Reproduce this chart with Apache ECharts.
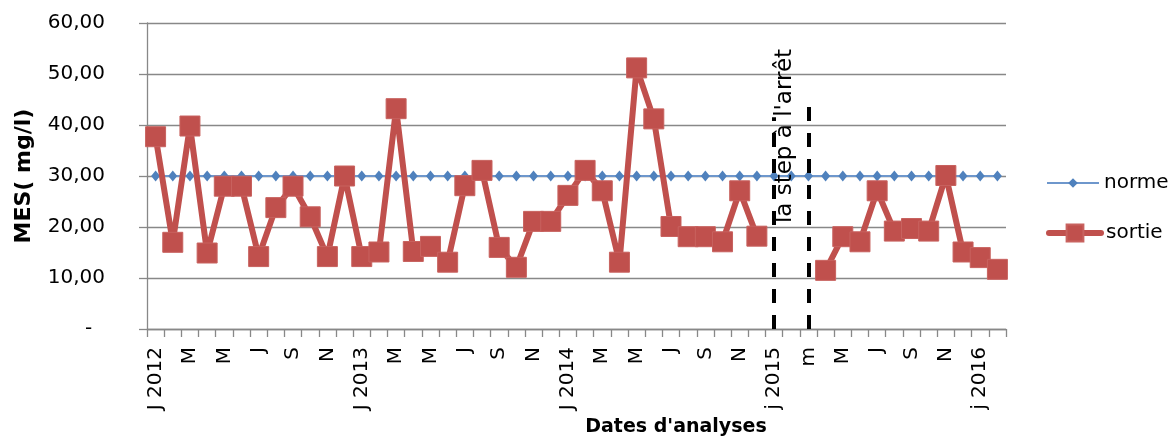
<!DOCTYPE html>
<html>
<head>
<meta charset="utf-8">
<script src="https://cdn.jsdelivr.net/npm/echarts@6/dist/echarts.min.js"></script>
<style>html,body{margin:0;padding:0;background:#fff;}#c{width:1171px;height:439px;}</style>
</head>
<body>
<div id="c"></div>
<script>
// Monthly categories, Jan 2012 .. Feb 2016 (tick labels shown every other month)
const categories = [
  'J 2012','F','M','A','M','J','J','A','S','O','N','D',
  'J 2013','F','M','A','M','J','J','A','S','O','N','D',
  'J 2014','F','M','A','M','J','J','A','S','O','N','D',
  'j 2015','f','m','a','M','J','J','A','S','O','N','D',
  'j 2016','f'
];
const norme = [
  30,30,30,30,30,30,30,30,30,30,30,30,
  30,30,30,30,30,30,30,30,30,30,30,30,
  30,30,30,30,30,30,30,30,30,30,30,30,
  30,30,30,30,30,30,30,30,30,30,30,30,
  30,30
];
const sortie = [
  37.7,17.0,39.8,14.9,28.0,28.0,14.2,23.8,28.0,22.0,14.2,30.0,
  14.2,15.1,43.2,15.2,16.2,13.1,28.1,31.1,16.0,12.1,21.1,21.1,
  26.2,31.1,27.1,13.1,51.2,41.2,20.1,18.1,18.1,17.1,27.1,18.2,
  null,null,null,11.5,18.1,17.1,27.1,19.2,19.7,19.2,30.1,15.1,
  14.0,11.7
];
const yTicks = [0,10,20,30,40,50,60];
// shutdown period markers: category index and top value of dashed line
const shutdownStart = 36, shutdownStartTop = 41.5;
const shutdownEnd = 38, shutdownEndTop = 45;
const annotationText = "la step à l'arrêt";
const xTitle = "Dates d'analyses";
const yTitle = 'MES( mg/l)';

const chart = echarts.init(document.getElementById('c'));
const font = 'DejaVu Sans';
const legendText = { fontFamily: font, fontSize: 20, color: '#000', lineHeight: 24 };
chart.setOption({
  animation: false,
  textStyle: { fontFamily: font },
  grid: { left: 147, right: 165, top: 23, bottom: 110, containLabel: false },
  legend: [
    {
      orient: 'vertical', left: 1041, top: 166,
      itemWidth: 52, itemHeight: 12, itemGap: 0,
      lineStyle: { width: 2 },
      textStyle: legendText,
      data: ['norme']
    },
    {
      orient: 'vertical', left: 1041, top: 216,
      itemWidth: 52, itemHeight: 21, itemGap: 0,
      lineStyle: { width: 6, cap: 'round' },
      textStyle: legendText,
      data: ['sortie']
    }
  ],
  xAxis: {
    type: 'category',
    data: categories,
    boundaryGap: true,
    axisLine: { lineStyle: { color: '#888', width: 1.3 } },
    axisTick: { show: true, length: 8, interval: 0, lineStyle: { color: '#888', width: 1.3 } },
    axisLabel: {
      interval: 1, rotate: 90, margin: 18,
      fontFamily: font, fontSize: 20, color: '#000'
    },
    splitLine: { show: false }
  },
  yAxis: {
    type: 'value',
    min: yTicks[0], max: yTicks[yTicks.length - 1], interval: 10,
    name: yTitle,
    nameLocation: 'middle',
    nameGap: 112,
    nameTextStyle: { fontFamily: font, fontSize: 22, fontWeight: 'bold', color: '#000' },
    axisLine: { show: true, lineStyle: { color: '#888', width: 1.3 } },
    axisTick: { show: true, length: 8, inside: false, lineStyle: { color: '#888', width: 1.3 } },
    axisLabel: {
      margin: 42, fontFamily: font, fontSize: 20, color: '#000',
      formatter: v => v === 0 ? '-  ' : v.toFixed(2).replace('.', ',')
    },
    splitLine: { show: true, lineStyle: { color: '#888', width: 1.3 } }
  },
  series: [
    {
      name: 'norme', type: 'line', data: norme,
      symbol: 'diamond', symbolSize: [9, 11], showAllSymbol: true,
      lineStyle: { color: '#6E97CC', width: 1.8 },
      itemStyle: { color: '#4F81BD' },
      z: 2
    },
    {
      name: 'sortie', type: 'line', data: sortie,
      symbol: 'rect', symbolSize: 20, showAllSymbol: true,
      connectNulls: false,
      lineStyle: { color: '#C0504D', width: 6 },
      itemStyle: { color: '#C0504D', borderColor: '#C8625F', borderWidth: 1 },
      z: 3,
      markLine: {
        silent: true, symbol: 'none', label: { show: false },
        lineStyle: { color: '#000', width: 4, type: [14, 12] },
        z: 4,
        data: [
          [{ coord: [shutdownStart, 0] }, { coord: [shutdownStart, shutdownStartTop] }],
          [{ coord: [shutdownEnd, 0] }, { coord: [shutdownEnd, shutdownEndTop] }]
        ]
      }
    }
  ]
});

// Annotation and x title positioned from the axes
const pMid = chart.convertToPixel({ xAxisIndex: 0, yAxisIndex: 0 }, [(shutdownStart + shutdownEnd) / 2, 38]);
chart.setOption({
  graphic: [
    {
      type: 'text', z: 100,
      x: pMid[0] - 6, y: 136, rotation: Math.PI / 2,
      style: { text: annotationText, fontFamily: font, fontSize: 23, fill: '#000', align: 'center', verticalAlign: 'middle' }
    },
    {
      type: 'text', z: 100,
      x: 676, y: 427,
      style: { text: xTitle, fontFamily: font, fontSize: 19, fontWeight: 'bold', fill: '#000', align: 'center', verticalAlign: 'middle' }
    }
  ]
});
</script>
</body>
</html>
